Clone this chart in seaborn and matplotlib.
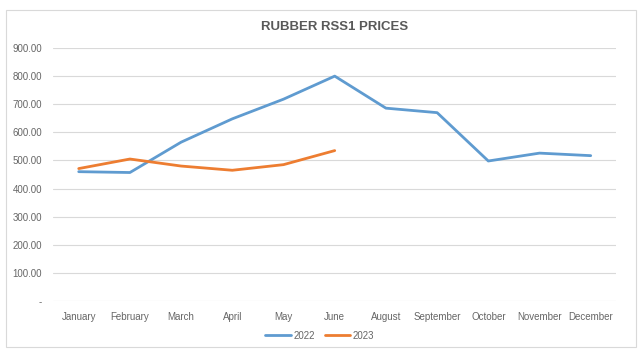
import matplotlib
matplotlib.use("Agg")
import matplotlib.pyplot as plt
from matplotlib.patches import Rectangle
from matplotlib.ticker import FuncFormatter
import pandas as pd
import seaborn as sns

months = ["January", "February", "March", "April", "May", "June",
          "August", "September", "October", "November", "December"]
prices_2022 = [460, 457, 565, 648, 718, 800, 686, 670, 498, 526, 517]
prices_2023 = [471, 505, 480, 465, 485, 535]
years = ["2022", "2023"]
colors = {"2022": "#5F9BD0", "2023": "#ED7D31"}

rows = [(m, v, "2022") for m, v in zip(months, prices_2022)]
rows += [(m, v, "2023") for m, v in zip(months, prices_2023)]
df = pd.DataFrame(rows, columns=["month", "price", "year"])

sns.set_style("white")
plt.rcParams["font.family"] = ["Liberation Sans Narrow", "Liberation Sans", "DejaVu Sans"]

fig = plt.figure(figsize=(6.4, 3.57), dpi=100)
ax = fig.add_axes([0.083, 0.157, 0.88, 0.7085])

sns.lineplot(data=df, x="month", y="price", hue="year", hue_order=years,
             palette=colors, linewidth=2.0, sort=False, ax=ax, legend=True)

ax.set_xlim(-0.5, len(months) - 0.5)
ax.set_ylim(0, 900)
ax.set_yticks(range(0, 901, 100))
ax.yaxis.set_major_formatter(FuncFormatter(lambda v, p: "-" if v == 0 else f"{v:.2f}"))
ax.grid(axis="y", color="#D9D9D9", linewidth=0.8)
ax.set_axisbelow(True)
for s in ax.spines.values():
    s.set_visible(False)
ax.tick_params(axis="both", length=0, labelsize=7, labelcolor="#666666", pad=8)
ax.set_xlabel(""); ax.set_ylabel("")

ax.set_title("RUBBER RSS1 PRICES", fontsize=9.5, fontweight="bold",
             color="#595959", pad=13)

h, l = ax.get_legend_handles_labels()
ax.legend_.remove()
fig.legend(h, l, loc="center", bbox_to_anchor=(0.5, 0.06), ncol=2, frameon=False,
           fontsize=7, labelcolor="#666666", handlelength=2.6, handletextpad=0.3,
           columnspacing=1.0)

fig.patches.append(Rectangle((0.009, 0.028), 0.985, 0.945, transform=fig.transFigure,
                             fill=False, edgecolor="#D9D9D9", linewidth=0.8))

fig.savefig("out.png", dpi=100)
